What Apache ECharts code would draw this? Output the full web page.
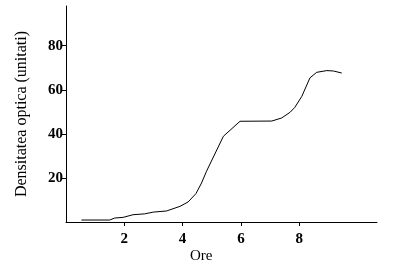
<!DOCTYPE html>
<html>
<head>
<meta charset="utf-8">
<script src="https://cdn.jsdelivr.net/npm/echarts@6/dist/echarts.min.js"></script>
<style>html,body{margin:0;padding:0;background:#fff;}#c{width:408px;height:273px;}</style>
</head>
<body>
<div id="c"></div>
<script>
var hours   = [0.53,1.5,1.67,1.96,2.3,2.7,3.0,3.45,3.91,4.19,4.46,4.65,4.82,5.4,5.97,7.06,7.4,7.69,7.85,8.09,8.37,8.6,8.95,9.18,9.46];
var density = [0.9,0.9,1.8,2.1,3.3,3.7,4.5,5.0,7.1,9.1,12.9,17.7,23,38.9,45.7,45.8,47.2,49.8,52,57,65.4,67.9,68.7,68.5,67.6];
var xTicks = [2,4,6,8];
var yTicks = [20,40,60,80];
var xTitle = 'Ore';
var yTitle = 'Densitatea optica (unitati)';

var data = hours.map(function(h,i){return [h,density[i]];});
var chart = echarts.init(document.getElementById('c'));
chart.setOption({
  animation:false,
  backgroundColor:'#fff',
  grid:{left:66,top:6,right:31,bottom:51,containLabel:false},
  xAxis:{
    type:'value',min:0,max:10.67,
    axisLine:{lineStyle:{color:'#000',width:1}},
    axisTick:{customValues:xTicks,length:4,lineStyle:{color:'#000'}},
    axisLabel:{customValues:xTicks,color:'#000',fontFamily:'Liberation Serif',fontWeight:'bold',fontSize:15,margin:10},
    splitLine:{show:false}
  },
  yAxis:{
    type:'value',min:0,max:98,
    name:yTitle,nameLocation:'middle',nameGap:36,nameRotate:90,
    nameTextStyle:{color:'#000',fontFamily:'Liberation Serif',fontSize:16},
    axisLine:{show:true,lineStyle:{color:'#000',width:1}},
    axisTick:{show:true,customValues:yTicks,length:4,lineStyle:{color:'#000'}},
    axisLabel:{customValues:yTicks,color:'#000',fontFamily:'Liberation Serif',fontWeight:'bold',fontSize:15,margin:3},
    splitLine:{show:false}
  },
  graphic:[{type:'text',left:190,top:249,style:{text:xTitle,fill:'#000',font:'15px "Liberation Serif"'}}],
  series:[{type:'line',data:data,showSymbol:false,smooth:false,lineStyle:{color:'#000',width:1}}]
});
</script>
</body>
</html>
